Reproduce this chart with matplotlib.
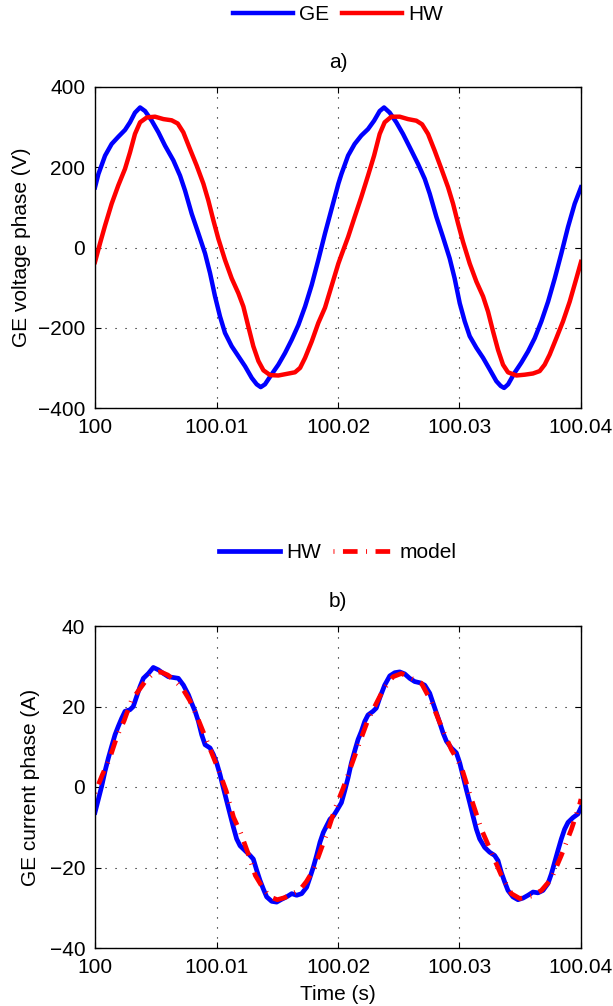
import numpy as np
import matplotlib
matplotlib.use('Agg')
import matplotlib.pyplot as plt

plt.rcParams['font.family'] = ['Liberation Sans', 'DejaVu Sans']

# ---- data (time in ms after t = 100 s) ----
ge_t = [0.00, 0.28, 0.83, 1.37, 1.92, 2.47, 2.88, 3.29, 3.71, 4.12, 4.67, 5.22, 5.76, 6.45, 7.00, 7.41,
        7.96, 8.51, 9.06, 9.47, 9.88, 10.29, 10.70, 11.25, 11.80, 12.35, 12.90, 13.31, 13.64, 13.99,
        14.54, 15.09, 15.64, 16.19, 16.74, 17.29, 17.84, 18.38, 18.93, 19.48, 20.03, 20.28, 20.83,
        21.37, 21.92, 22.47, 22.97, 23.43, 23.79, 24.26, 24.80, 25.35, 25.90, 26.59, 27.14, 27.55,
        28.10, 28.64, 29.19, 29.60, 30.02, 30.43, 30.84, 31.39, 31.94, 32.49, 33.03, 33.39, 33.67,
        34.00, 34.54, 35.09, 35.64, 36.19, 36.74, 37.29, 37.84, 38.38, 38.93, 39.48, 40.00]
ge_v = [150, 183, 229, 258, 276, 293, 312, 336, 349, 340, 316, 287, 254, 217, 179, 142,
        84, 35, -15, -64, -122, -172, -213, -246, -271, -296, -325, -341, -348, -341,
        -316, -292, -263, -230, -193, -147, -93, -31, 35, 97, 159, 183, 229,
        258, 279, 295, 316, 340, 349, 336, 312, 283, 250, 208, 171, 134,
        76, 26, -27, -77, -139, -184, -221, -250, -275, -304, -333, -345, -350,
        -341, -312, -287, -259, -226, -184, -135, -77, -15, 51, 109, 150]

hw_t = [0.00, 0.41, 0.83, 1.37, 1.92, 2.47, 2.88, 3.29, 3.71, 4.26, 4.94, 5.63, 6.31, 6.81, 7.27,
        7.82, 8.37, 8.92, 9.33, 9.74, 10.15, 10.70, 11.25, 11.80, 12.21, 12.62, 13.03, 13.45, 13.86,
        14.41, 15.09, 15.78, 16.46, 16.88, 17.29, 17.84, 18.38, 18.93, 19.48, 20.03, 20.28, 20.83,
        21.37, 21.92, 22.47, 22.97, 23.43, 23.84, 24.39, 25.08, 25.76, 26.45, 26.92, 27.41, 27.96,
        28.51, 29.06, 29.47, 29.88, 30.29, 30.84, 31.39, 31.94, 32.35, 32.76, 33.17, 33.58, 33.99,
        34.68, 35.37, 36.05, 36.60, 37.01, 37.42, 37.97, 38.52, 39.07, 39.62, 40.00]
hw_v = [-36, 10, 55, 109, 155, 196, 237, 283, 312, 324, 326, 320, 317, 309, 287,
        245, 204, 159, 117, 68, 22, -31, -77, -114, -147, -197, -246, -283, -306,
        -318, -319, -315, -311, -300, -275, -234, -188, -150, -95, -40, -19, 26,
        76, 126, 179, 229, 283, 312, 326, 326, 320, 316, 307, 283, 241,
        196, 150, 109, 60, 14, -40, -85, -122, -160, -209, -255, -292, -311,
        -319, -317, -314, -308, -292, -267, -226, -184, -135, -77, -36]

cur_t = [0.00, 0.28, 0.55, 0.83, 1.10, 1.37, 1.65, 1.92, 2.20, 2.47, 2.88, 3.15, 3.43, 3.70, 3.98,
         4.39, 4.80, 5.22, 5.63, 6.04, 6.45, 6.86, 7.28, 7.69, 7.96, 8.24, 8.51, 8.78, 9.06, 9.47,
         9.74, 10.01, 10.29, 10.56, 10.84, 11.11, 11.39, 11.66, 11.94, 12.35, 12.76, 13.03, 13.31,
         13.58, 13.85, 14.13, 14.54, 14.95, 15.36, 15.77, 16.19, 16.60, 17.01, 17.42, 17.70, 17.97,
         18.24, 18.52, 18.79, 19.07, 19.34, 19.62, 19.89, 20.28, 20.55, 20.83, 21.10, 21.37, 21.65,
         21.92, 22.20, 22.47, 22.88, 23.15, 23.43, 23.84, 24.26, 24.67, 25.08, 25.49, 25.90, 26.31,
         26.73, 27.14, 27.55, 27.83, 28.10, 28.38, 28.65, 28.92, 29.33, 29.74, 30.02, 30.29, 30.56,
         30.84, 31.11, 31.39, 31.66, 32.07, 32.48, 32.89, 33.17, 33.44, 33.72, 33.99, 34.40, 34.81,
         35.23, 35.64, 36.05, 36.46, 36.87, 37.28, 37.56, 37.83, 38.10, 38.38, 38.65, 38.93, 39.34,
         39.75, 40.00]
cur_hw = [-6.3, -3.0, 0.2, 4.0, 7.2, 10.1, 13.0, 15.1, 17.1, 18.8, 19.2, 20.0, 22.5, 24.9, 27.0,
          28.2, 29.7, 29.1, 28.2, 27.4, 27.2, 27.0, 25.3, 22.9, 20.8, 18.8, 16.3, 13.0, 10.5, 9.7,
          8.1, 6.0, 3.1, -0.2, -3.5, -6.7, -10.0, -12.9, -14.6, -15.8, -17.0, -17.9, -20.7,
          -23.2, -25.3, -27.3, -28.4, -28.6, -27.9, -27.3, -26.5, -26.9, -26.5, -24.9, -22.4, -19.9,
          -17.0, -13.7, -11.3, -9.6, -8.0, -7.2, -5.9, -3.9, -1.0, 2.3, 6.0, 8.9, 11.8,
          13.8, 16.3, 17.9, 18.8, 19.6, 22.1, 25.3, 27.6, 28.4, 28.6, 28.1, 27.0, 26.2,
          25.9, 25.3, 23.3, 20.8, 18.4, 15.9, 13.4, 11.4, 9.7, 8.5, 6.0, 2.7, -0.6,
          -3.9, -7.2, -10.5, -12.9, -15.0, -16.2, -17.0, -18.3, -21.2, -23.6, -25.7, -27.3, -28.0,
          -27.6, -26.9, -26.1, -26.3, -25.7, -24.0, -21.6, -18.7, -15.8, -12.9, -10.5, -8.8, -7.6,
          -6.7, -5.1]

mod_t = [0.0, 0.6, 1.2, 1.8, 2.4, 3.0, 3.6, 4.2, 4.8, 5.4, 6.0, 6.6, 7.2, 7.8, 8.4, 9.0, 9.6,
         10.2, 10.8, 11.4, 12.0, 12.6, 13.2, 13.8, 14.4, 15.0, 15.6, 16.2, 16.8, 17.4, 18.0, 18.6,
         19.2, 19.8, 20.4, 20.83, 21.65, 22.47, 23.71, 24.53, 25.22, 26.04, 26.86, 27.68, 28.51,
         29.33, 30.15, 30.98, 31.80, 32.62, 33.45, 34.27, 34.96, 35.92, 36.74, 37.56, 38.38, 39.21,
         39.89, 40.0]
mod_i = [-1.5, 3.0, 7.0, 12.5, 16.5, 21.5, 24.0, 26.5, 28.3, 28.6, 27.8, 26.3, 24.5, 21.5, 17.5,
         13.0, 8.5, 4.0, -1.0, -7.5, -11.5, -16.5, -22.0, -25.0, -27.3, -28.0, -27.5, -26.5, -25.8,
         -23.5, -20.5, -15.5, -10.5, -5.0, -0.5, 3.1, 10.0, 16.7, 24.1, 27.4, 28.2, 27.0, 25.8,
         21.2, 15.0, 9.3, 5.0, -3.0, -10.5, -16.2, -22.0, -26.5, -27.7, -27.1, -25.7, -22.8,
         -17.0, -10.5, -4.3, -3.0]

xticks = [100, 100.01, 100.02, 100.03, 100.04]
xticklabels = ['100', '100.01', '100.02', '100.03', '100.04']

W, H = 613, 1006
fig = plt.figure(figsize=(W / 100, H / 100), dpi=100)
ax1 = fig.add_axes([95 / W, 1 - 408 / H, 486 / W, 321 / H])
ax2 = fig.add_axes([95 / W, 1 - 948 / H, 486 / W, 322 / H])

def ms(t):
    return 100 + np.array(t) / 1000.0

# a) voltage
ax1.plot(ms(ge_t), ge_v, color='#0000ff', lw=3.2, label='GE', solid_joinstyle='round')
ax1.plot(ms(hw_t), hw_v, color='#ff0000', lw=3.2, label='HW', solid_joinstyle='round')
ax1.set_ylim(-400, 400)
ax1.set_yticks([-400, -200, 0, 200, 400])
ax1.set_ylabel('GE voltage phase (V)', fontsize=15)
ax1.yaxis.set_label_coords(-0.132, 0.5)
ax1.set_title('a)', fontsize=15, pad=14)
ax1.legend(loc='center', bbox_to_anchor=(0.5, 1.225), ncol=2, frameon=False, fontsize=15,
           handlelength=2.9, handletextpad=0.3, columnspacing=0.6)

# b) current
ax2.plot(ms(cur_t), cur_hw, color='#0000ff', lw=3.4, label='HW', solid_joinstyle='round')
ax2.plot(ms(mod_t), mod_i, color='#ff0000', lw=3.4, label='model',
         linestyle=(4.9, (3.1, 1.8, 0.2, 1.8)))
ax2.set_ylim(-40, 40)
ax2.set_yticks([-40, -20, 0, 20, 40])
ax2.set_ylabel('GE current phase (A)', fontsize=15)
ax2.yaxis.set_label_coords(-0.114, 0.5)
ax2.set_xlabel('Time (s)', fontsize=15)
ax2.xaxis.set_label_coords(0.5, -0.115)
ax2.set_title('b)', fontsize=15, pad=14)
ax2.legend(loc='center', bbox_to_anchor=(0.5, 1.227), ncol=2, frameon=False, fontsize=15,
           handlelength=2.9, handletextpad=0.3, columnspacing=0.6)

for ax in (ax1, ax2):
    ax.set_xlim(100, 100.04)
    ax.set_xticks(xticks)
    ax.set_xticklabels(xticklabels)
    ax.grid(True, color='black', linestyle=(0, (1, 8)), linewidth=0.8)
    ax.tick_params(direction='in', top=True, right=True, length=4, width=0.8,
                   labelsize=15, pad=7)
    for s in ax.spines.values():
        s.set_linewidth(1.0)

fig.savefig('out.png', dpi=100)
